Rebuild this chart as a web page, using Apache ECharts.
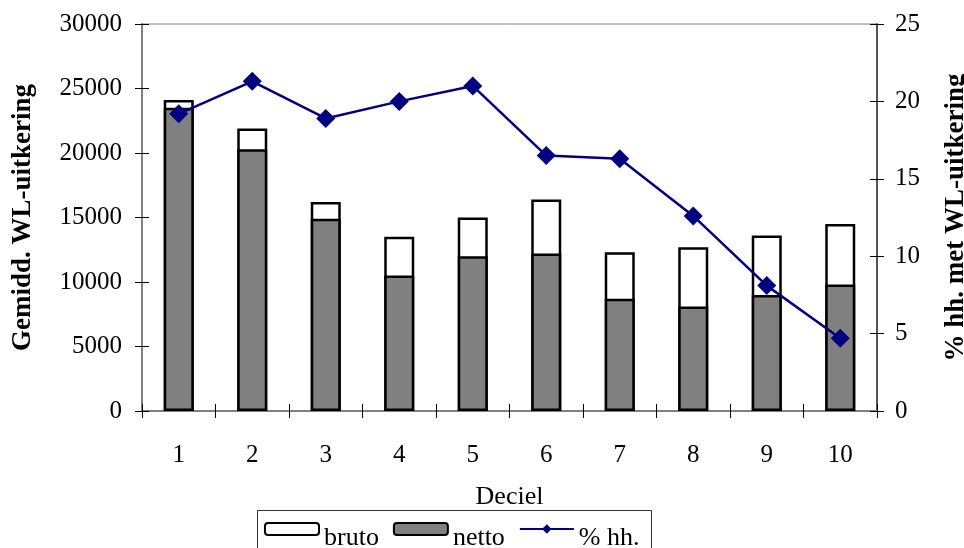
<!DOCTYPE html>
<html>
<head>
<meta charset="utf-8">
<script src="https://cdn.jsdelivr.net/npm/echarts@6/dist/echarts.min.js"></script>
<style>
  html, body { margin: 0; padding: 0; background: #fff; }
  #chart { width: 964px; height: 548px; }
</style>
</head>
<body>
<div id="chart"></div>
<script>
// Deciles of household income
const categories = ['1', '2', '3', '4', '5', '6', '7', '8', '9', '10'];
// Average unemployment benefit (gross / net)
const bruto = [24100, 21900, 16200, 13500, 15000, 16400, 12300, 12700, 13600, 14500];
const netto = [23500, 20300, 14900, 10500, 12000, 12200, 8700, 8100, 9000, 9800];
// Share of households receiving the benefit (%)
const pctHH = [19.2, 21.3, 18.9, 20.0, 21.0, 16.5, 16.3, 12.6, 8.1, 4.7];

const leftTicks = { min: 0, max: 30000, interval: 5000 };
const rightTicks = { min: 0, max: 25, interval: 5 };

const FONT = 'Liberation Serif';
const GRAY = '#808080';

const chart = echarts.init(document.getElementById('chart'), null, { renderer: 'canvas' });

// Ticks straddle the axis lines: a second, silent axis supplies the inner half.
const tickStyle = { color: '#000', width: 1 };
const plain = v => String(v);

chart.setOption({
  backgroundColor: '#fff',
  animation: false,
  grid: {
    left: 142, right: 87, top: 24, bottom: 137,
    containLabel: false, outerBoundsMode: 'none',
    show: true, borderColor: GRAY, borderWidth: 1, backgroundColor: 'transparent'
  },
  legend: {
    left: 264, top: 522,
    padding: 0,
    itemGap: 14,
    itemWidth: 54, itemHeight: 12,
    formatter: '{t|{name}}',
    textStyle: {
      fontFamily: FONT, fontSize: 26, color: '#000',
      rich: { t: { fontFamily: FONT, fontSize: 26, color: '#000', padding: [18, 0, 0, 0] } }
    },
    data: ['bruto', 'netto', '% hh.']
  },
  graphic: [
    {
      type: 'rect', left: 257, top: 510, silent: true,
      shape: { width: 394, height: 60 },
      style: { fill: 'transparent', stroke: '#333', lineWidth: 1 }
    }
  ],
  xAxis: [
    {
      type: 'category', data: categories, position: 'bottom',
      name: 'Deciel', nameLocation: 'middle', nameGap: 73,
      nameTextStyle: { fontFamily: FONT, fontSize: 26, color: '#000' },
      axisLine: { show: true, lineStyle: { color: GRAY, width: 2 } },
      axisTick: { show: true, length: 7, lineStyle: tickStyle },
      axisLabel: { fontFamily: FONT, fontSize: 25, color: '#000', margin: 32 },
      splitLine: { show: false }
    },
    {
      type: 'category', data: categories, position: 'bottom',
      axisLine: { show: false },
      axisTick: { show: true, inside: true, length: 7, lineStyle: tickStyle },
      axisLabel: { show: false },
      splitLine: { show: false }
    }
  ],
  yAxis: [
    {
      type: 'value', position: 'left',
      min: leftTicks.min, max: leftTicks.max, interval: leftTicks.interval,
      name: 'Gemidd. WL-uitkering', nameLocation: 'middle', nameGap: 105,
      nameTextStyle: { fontFamily: FONT, fontSize: 27, fontWeight: 'bold', color: '#000' },
      axisLine: { show: true, lineStyle: { color: GRAY, width: 2 } },
      axisTick: { show: true, length: 7, lineStyle: tickStyle },
      axisLabel: { fontFamily: FONT, fontSize: 25, color: '#000', margin: 20, formatter: plain },
      splitLine: { show: false }
    },
    {
      type: 'value', position: 'right',
      min: rightTicks.min, max: rightTicks.max, interval: rightTicks.interval,
      name: '% hh. met WL-uitkering', nameLocation: 'middle', nameGap: 66,
      nameTextStyle: { fontFamily: FONT, fontSize: 27, fontWeight: 'bold', color: '#000' },
      axisLine: { show: true, lineStyle: { color: '#555', width: 2 } },
      axisTick: { show: true, length: 7, lineStyle: tickStyle },
      axisLabel: { fontFamily: FONT, fontSize: 25, color: '#000', margin: 18, formatter: plain },
      splitLine: { show: false }
    },
    {
      type: 'value', position: 'left',
      min: leftTicks.min, max: leftTicks.max, interval: leftTicks.interval,
      axisLine: { show: false },
      axisTick: { show: true, inside: true, length: 7, lineStyle: tickStyle },
      axisLabel: { show: false },
      splitLine: { show: false }
    },
    {
      type: 'value', position: 'right',
      min: rightTicks.min, max: rightTicks.max, interval: rightTicks.interval,
      axisLine: { show: false },
      axisTick: { show: true, inside: true, length: 7, lineStyle: tickStyle },
      axisLabel: { show: false },
      splitLine: { show: false }
    }
  ],
  series: [
    {
      name: 'bruto', type: 'bar', xAxisIndex: 0, yAxisIndex: 0,
      data: bruto, barWidth: 30, barGap: '-100%',
      itemStyle: { color: '#fff', borderColor: '#000', borderWidth: 2.5 }
    },
    {
      name: 'netto', type: 'bar', xAxisIndex: 0, yAxisIndex: 0,
      data: netto, barWidth: 30, barGap: '-100%',
      itemStyle: { color: GRAY, borderColor: '#000', borderWidth: 2.5 }
    },
    {
      name: '% hh.', type: 'line', xAxisIndex: 0, yAxisIndex: 1,
      data: pctHH, symbol: 'diamond', symbolSize: 19,
      z: 5,
      lineStyle: { color: '#000080', width: 2.5 },
      itemStyle: { color: '#000080' }
    }
  ]
});
</script>
</body>
</html>
